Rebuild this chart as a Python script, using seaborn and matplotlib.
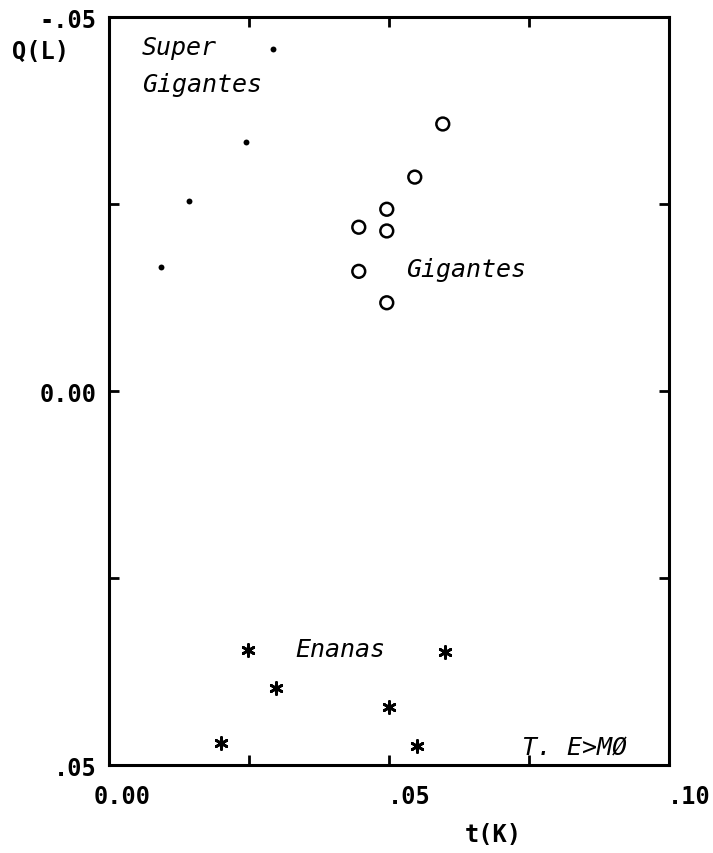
import pandas as pd
import seaborn as sns
import matplotlib.pyplot as plt
import matplotlib.transforms as mtransforms

# data: t(K) vs Q(L)
super_t = [0.0293, 0.0245, 0.0143, 0.0093]
super_q = [-0.0457, -0.0333, -0.0254, -0.0166]

gig_t = [0.0596, 0.0546, 0.0496, 0.0496, 0.0446, 0.0446, 0.0496]
gig_q = [-0.0357, -0.0286, -0.0243, -0.0214, -0.0219, -0.0160, -0.0118]

ena_t = [0.0248, 0.0298, 0.0200, 0.0500, 0.0550, 0.0600]
ena_q = [0.0346, 0.0397, 0.0471, 0.0422, 0.0475, 0.0349]

x_ticks = [0.0, 0.025, 0.05, 0.075, 0.10]
x_labels = ['0.00', '', '.05', '', '.10']
y_ticks = [-0.05, -0.025, 0.0, 0.025, 0.05]
y_labels = ['-.05', '', '0.00', '', '.05']

sup = pd.DataFrame({'t': super_t, 'q': super_q})
gig = pd.DataFrame({'t': gig_t, 'q': gig_q})
ena = pd.DataFrame({'t': ena_t, 'q': ena_q})

sns.set_style('white')
plt.rcParams['font.family'] = ['DejaVu Sans Mono', 'DejaVu Sans']
plt.rcParams['text.color'] = 'black'

fig = plt.figure(figsize=(7.13, 8.54), dpi=100)
ax = fig.add_axes([0.1529, 0.1030, 0.7854, 0.8759])

sns.scatterplot(data=sup, x='t', y='q', ax=ax, marker='o', s=18,
                color='black', edgecolor='black', linewidth=0)
sns.scatterplot(data=gig, x='t', y='q', ax=ax, marker='o', s=85,
                facecolors='none', edgecolor='black', linewidth=1.8)
sns.scatterplot(data=ena, x='t', y='q', ax=ax, marker=(6, 2, 0), s=75,
                color='black', linewidth=2.0)

ax.set_xlim(0, 0.10)
ax.set_ylim(0.05, -0.05)
ax.set_xticks(x_ticks)
ax.set_xticklabels(x_labels, fontsize=17, fontweight='bold')
ax.set_yticks(y_ticks)
ax.set_yticklabels(y_labels, fontsize=17, fontweight='bold')
ax.set_xlabel('')
ax.set_ylabel('')

for s in ax.spines.values():
    s.set_linewidth(2.2)
    s.set_color('black')
ax.tick_params(direction='in', length=7, width=2, top=True, right=True,
               bottom=True, left=True, colors='black', labelcolor='black')
ax.tick_params(axis='x', pad=14)
ax.tick_params(axis='y', pad=9)

# plotter put x labels right-aligned a bit past the tick
off = mtransforms.ScaledTranslation(0.42, 0, fig.dpi_scale_trans)
for lab in ax.get_xticklabels():
    lab.set_horizontalalignment('right')
    lab.set_transform(lab.get_transform() + off)

txt = dict(fontsize=18, style='italic', color='black', va='baseline')
ax.text(0.0059, -0.0451, 'Super', **txt)
ax.text(0.0059, -0.0401, 'Gigantes', **txt)
ax.text(0.0530, -0.0154, 'Gigantes', **txt)
ax.text(0.0332, 0.0354, 'Enanas', **txt)
ax.text(0.0738, 0.0485, 'T. E>MØ', **txt)

fig.text(12 / 713, 1 - 52 / 854, 'Q(L)', fontsize=17, fontweight='bold',
         ha='left', va='center')
fig.text(493 / 713, 1 - 835 / 854, 't(K)', fontsize=17, fontweight='bold',
         ha='center', va='center')

fig.savefig('out.png', dpi=100)
